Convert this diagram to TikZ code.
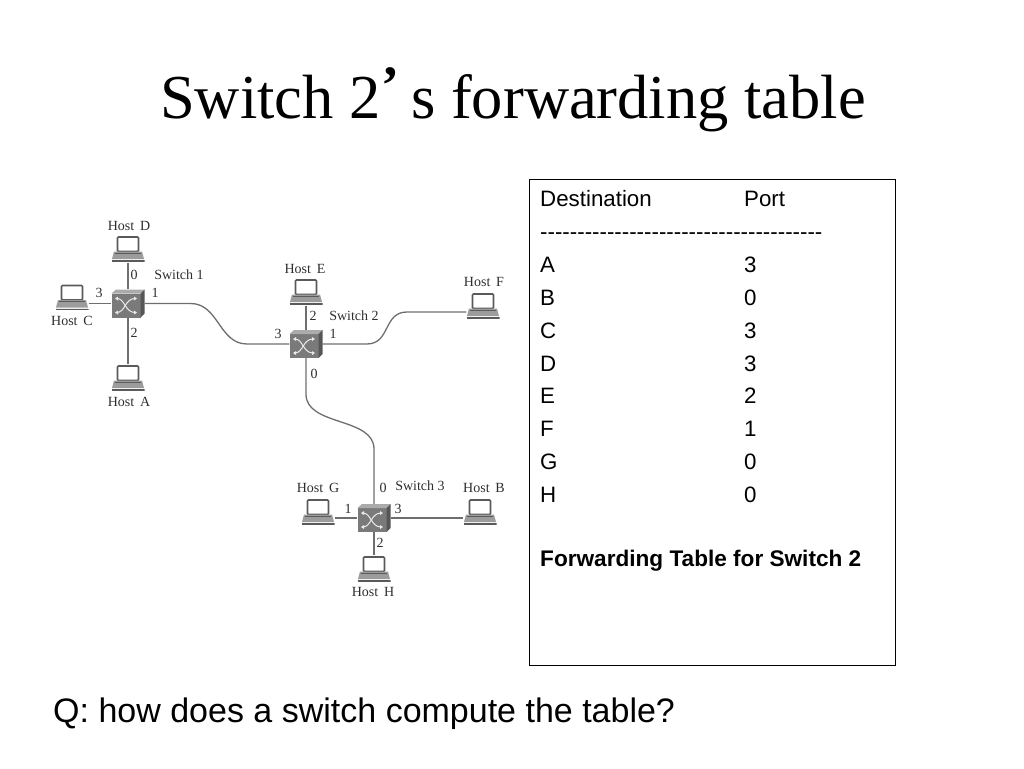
\documentclass[tikz,border=0pt]{standalone}
\usepackage{fontspec}
\setmainfont{Liberation Serif}
\setsansfont{Liberation Sans}
\newfontfamily\plainsans{Liberation Sans}
\tikzset{
  hostpc/.style={minimum width=33pt, minimum height=27pt, inner sep=0pt, path picture={
    \draw [line width=1.7pt, draw=hostline, fill=white, rounded corners=1pt] (-10.5,-12) rectangle (10.5,2.5);
    \fill [basegray] (-14,2.5) -- (14,2.5) -- (16,10) -- (-16,10) -- cycle;
    \draw [line width=1pt, draw=hostline] (-13,4) -- (13,4);
    \fill [white!85!basegray] (-16,10) rectangle (16,11);
    \draw [line width=1.4pt, draw=hostline] (-16.5,12) -- (16.5,12);
  }},
  switchbox/.style={minimum width=33pt, minimum height=28pt, inner sep=0pt, path picture={
    \fill [switchgray] (-16.5,-10) rectangle (12.5,14);
    \fill [switchlight] (-16.5,-10) -- (-12,-14) -- (16.5,-14) -- (12.5,-10) -- cycle;
    \fill [switchdark] (12.5,-10) -- (16.5,-14) -- (16.5,10) -- (12.5,14) -- cycle;
    \draw [white!85!switchgray, line width=1pt] (-11,-5) .. controls (-3,-5) and (-3,9) .. (7,9);
    \draw [white!85!switchgray, line width=1pt] (-11,9) .. controls (-3,9) and (-3,-5) .. (7,-5);
    \fill [white!85!switchgray] (-13,-5) -- (-10,-7) -- (-10,-3) -- cycle;
    \fill [white!85!switchgray] (-13,9) -- (-10,7) -- (-10,11) -- cycle;
    \fill [white!85!switchgray] (9,-5) -- (6,-7) -- (6,-3) -- cycle;
    \fill [white!85!switchgray] (9,9) -- (6,7) -- (6,11) -- cycle;
  }},
  netlabel/.style={font=\fontsize{14}{16}\selectfont, text=labelgray, inner sep=0pt},
  wire/.style={draw=linegray, line width=1.3pt},
  rowtext/.style={font=\sffamily\fontsize{22.3}{24}\selectfont, anchor=base west, inner sep=0pt},
}
\definecolor{linegray}{HTML}{6E6E6E}
\definecolor{hostline}{HTML}{5A5A5A}
\definecolor{basegray}{HTML}{9C9C9C}
\definecolor{switchgray}{HTML}{7A7A7A}
\definecolor{switchlight}{HTML}{ABABAB}
\definecolor{switchdark}{HTML}{565656}
\definecolor{labelgray}{HTML}{2E2E2E}
\begin{document}
\begin{tikzpicture}[x=1pt, y=-1pt]
  \useasboundingbox (0,0) rectangle (1024,768);
  % title
  \node [anchor=base west, inner sep=0pt, font=\fontsize{62.5}{68}\selectfont] at (160,118) (title) {Switch 2};
  \node [anchor=base west, inner sep=0pt, font=\bfseries\fontsize{54}{60}\selectfont] at (381,103) (apos) {’};
  \node [anchor=base west, inner sep=0pt, font=\fontsize{62.5}{68}\selectfont] at (411,118) (titleb) {s forwarding table};
  % switches
  \node [switchbox] at (128,303.5) (sa) {};
  \node [switchbox] at (306,344) (sb) {};
  \node [switchbox] at (374,518) (sc) {};
  % hosts
  \node [hostpc] at (128,249) (hd) {};
  \node [hostpc] at (72,297.5) (hc) {};
  \node [hostpc] at (128,378) (ha) {};
  \node [hostpc] at (306,292) (he) {};
  \node [hostpc] at (483,306) (hf) {};
  \node [hostpc] at (318,512) (hg) {};
  \node [hostpc] at (480,512) (hb) {};
  \node [hostpc] at (374,569) (hh) {};
  % wires
  \draw [wire] (hd.south) -- (sa.north);
  \draw [wire] (sa.south) -- (ha.north);
  \draw [wire] ([yshift=-6pt]hc.east) -- (sa.west);
  \draw [wire] (sa.east) -- ++(46,0) .. controls ++(28,0) and ++(-28,0) .. (247,344) -- (sb.west);
  \draw [wire] (he.south) -- (sb.north);
  \draw [wire] (sb.east) -- ++(44,0) .. controls ++(24,0) and ++(-24,0) .. (407,312) -- ([yshift=-6pt]hf.west);
  \draw [wire] (sb.south) -- ++(0,36) .. controls ++(0,32) and ++(0,-32) .. (374,449) -- (sc.north);
  \draw [wire] ([yshift=-6pt]hg.east) -- (sc.west);
  \draw [wire] (sc.east) -- ([yshift=-6pt]hb.west);
  \draw [wire] (sc.south) -- (hh.north);
  % network labels
  \node [netlabel] at (129,226) (lhd) {Host\, D};
  \node [netlabel] at (72,321) (lhc) {Host\, C};
  \node [netlabel] at (129,402) (lha) {Host\, A};
  \node [netlabel] at (305,269) (lhe) {Host\, E};
  \node [netlabel] at (484,282) (lhf) {Host\, F};
  \node [netlabel] at (318,488) (lhg) {Host\, G};
  \node [netlabel] at (484,488) (lhb) {Host\, B};
  \node [netlabel] at (373,592) (lhh) {Host\, H};
  \node [netlabel] at (179,275) (lsa) {Switch 1};
  \node [netlabel] at (354,316) (lsb) {Switch 2};
  \node [netlabel] at (420,486) (lsc) {Switch 3};
  \node [netlabel] at (134,275) (pa) {0};
  \node [netlabel] at (99,293) (pb) {3};
  \node [netlabel] at (155,293) (pc) {1};
  \node [netlabel] at (134,333) (pd) {2};
  \node [netlabel] at (313,316) (pe) {2};
  \node [netlabel] at (278,334) (pf) {3};
  \node [netlabel] at (333,334) (pg) {1};
  \node [netlabel] at (314,374) (ph) {0};
  \node [netlabel] at (383,488) (pi) {0};
  \node [netlabel] at (348,509) (pj) {1};
  \node [netlabel] at (398,509) (pk) {3};
  \node [netlabel] at (380,543) (pl) {2};
  % table
  \node [draw, line width=0.8pt, minimum width=366pt, minimum height=486pt, inner sep=0pt] at (712,422) (tablebox) {};
  \node [rowtext] at (540,206) (dest) {Destination};
  \node [rowtext] at (744,206) (port) {Port};
  \node [rowtext, font=\plainsans\fontsize{22.3}{24}\selectfont] at (540,239) (dashes) {--------------------------------------};
  \foreach \name/\num/\ypos in {A/3/272, B/0/305, C/3/338, D/3/371, E/2/403, F/1/436, G/0/469, H/0/502} {
    \node [rowtext] at (540,\ypos) (row\name) {\name};
    \node [rowtext] at (744,\ypos) (num\name) {\num};
  }
  \node [rowtext, font=\sffamily\bfseries\fontsize{22.6}{24}\selectfont] at (540,566) (caption) {Forwarding Table for Switch 2};
  % question
  \node [rowtext, font=\sffamily\fontsize{34}{36}\selectfont] at (53,722) (question) {Q: how does a switch compute the table?};
\end{tikzpicture}
\end{document}
